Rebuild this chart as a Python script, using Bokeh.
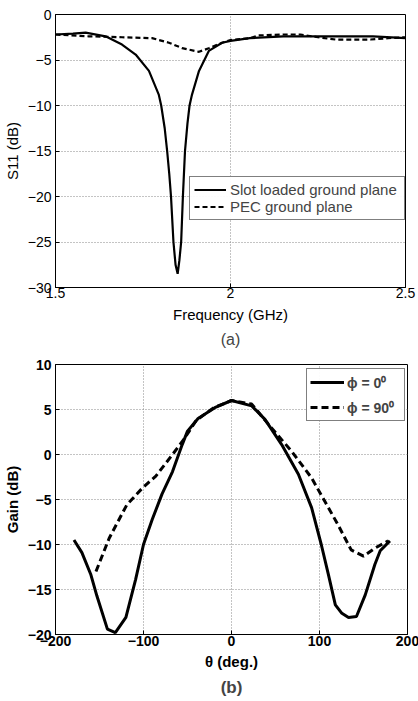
from bokeh.plotting import figure
from bokeh.layouts import column
from bokeh.models import Legend, LegendItem, Title, FixedTicker
from bokeh.embed import file_html
from bokeh.resources import INLINE

# ---- data (a) ----
freq_slot = [1.50, 1.55, 1.586, 1.643, 1.69, 1.729, 1.767, 1.795, 1.802, 1.812, 1.819, 1.825, 1.830, 1.837,
             1.843, 1.849, 1.854, 1.859, 1.864, 1.870, 1.877, 1.883, 1.890, 1.91, 1.938, 1.976, 2.00,
             2.055, 2.151, 2.292, 2.407, 2.50]
s11_slot = [-2.2, -2.1, -2.0, -2.4, -3.3, -4.4, -6.2, -8.8, -10.0, -12.5, -15.0, -17.5, -20.0, -25.0,
            -27.5, -28.5, -27.0, -25.0, -20.0, -15.0, -12.0, -10.0, -8.8, -6.2, -4.0, -3.1, -2.9,
            -2.6, -2.4, -2.4, -2.4, -2.6]
freq_pec = [1.50, 1.595, 1.69, 1.776, 1.824, 1.862, 1.91, 1.938, 1.976, 2.00, 2.055, 2.08, 2.15, 2.20,
            2.25, 2.30, 2.40, 2.45, 2.50]
s11_pec = [-2.2, -2.4, -2.5, -2.6, -3.1, -3.7, -4.1, -3.7, -3.1, -2.8, -2.6, -2.3, -2.2, -2.2,
           -2.5, -2.75, -2.75, -2.6, -2.5]
ticks_a_x = [1.5, 2, 2.5]
ticks_a_y = [-30, -25, -20, -15, -10, -5, 0]

# ---- data (b) ----
theta0 = [-179, -170, -160, -153, -141, -132, -120, -109, -100, -90, -79, -67, -56, -50, -38, -19, 0,
          23, 38, 57, 76, 91, 102, 110, 118, 125, 133, 142, 152, 163, 169, 180]
gain0 = [-9.5, -10.9, -13.3, -15.7, -19.4, -19.8, -18.1, -13.9, -10.0, -7.2, -4.4, -1.9, 1.1, 2.6, 4.0,
         5.2, 6.0, 5.4, 3.9, 1.1, -2.2, -5.9, -10.0, -13.3, -16.7, -17.6, -18.1, -18.0, -15.6, -12.2,
         -10.7, -9.6]
theta90 = [-154, -139, -119, -101, -86, -67, -54, -40, -20, 0, 23, 45, 68, 91, 106, 121, 136, 150, 163,
           178]
gain90 = [-13.0, -9.3, -5.6, -3.7, -2.4, 0.0, 1.7, 3.8, 5.2, 6.0, 5.6, 3.0, 0.4, -2.6, -5.2, -7.8,
          -10.6, -11.3, -10.4, -9.6]
ticks_b_x = [-200, -100, 0, 100, 200]
ticks_b_y = [-20, -15, -10, -5, 0, 5, 10]

FONT = "Liberation Sans"


def style(p, bold=False):
    p.outline_line_color = "black"
    p.outline_line_width = 1
    p.background_fill_color = "white"
    p.border_fill_color = "white"
    for ax in p.axis:
        ax.major_tick_in = 4
        ax.major_tick_out = 0
        ax.minor_tick_line_color = None
        ax.axis_line_color = "black"
        ax.major_label_text_font = FONT
        ax.major_label_text_font_size = "14px"
        ax.major_label_text_color = "black"
        ax.axis_label_text_font = FONT
        ax.axis_label_text_font_size = "15px"
        ax.axis_label_text_font_style = "bold" if bold else "normal"
        ax.major_label_text_font_style = "bold" if bold else "normal"
        ax.axis_label_text_color = "black"
    p.xaxis.major_label_standoff = 0
    p.xaxis.axis_label_standoff = 5
    p.yaxis.major_label_standoff = 4
    p.yaxis.axis_label_standoff = 4
    for g in p.grid:
        g.grid_line_color = "#888888"
        g.grid_line_dash = "1 2"
        g.grid_line_width = 1


# ---- figure (a) ----
p1 = figure(frame_width=350, frame_height=273, x_range=(1.5, 2.5), y_range=(-30, 0),
            output_backend="svg", toolbar_location=None,
            min_border_left=48, min_border_right=12, min_border_top=14, min_border_bottom=65)
p1.xaxis.ticker = FixedTicker(ticks=ticks_a_x)
p1.yaxis.ticker = FixedTicker(ticks=ticks_a_y)
p1.xaxis.axis_label = "Frequency (GHz)"
p1.yaxis.axis_label = "S11 (dB)"
r1 = p1.line(freq_slot, s11_slot, line_color="black", line_width=2.2)
r2 = p1.line(freq_pec, s11_pec, line_color="black", line_width=2.2, line_dash="5 3")
style(p1)
leg1 = Legend(items=[LegendItem(label="Slot loaded ground plane", renderers=[r1]),
                     LegendItem(label="PEC ground plane", renderers=[r2])],
              location=(134, 67), label_text_font=FONT, label_text_font_size="15px",
              glyph_width=32, glyph_height=17, label_height=17, label_width=170, spacing=0,
              padding=4, margin=0, border_line_color="black", border_line_width=1, label_standoff=4)
p1.add_layout(leg1)
t1 = Title(text="(a)", align="center", text_font=FONT, text_font_size="16px",
           text_font_style="normal", standoff=7)
p1.add_layout(t1, "below")

# ---- figure (b) ----
p2 = figure(frame_width=352, frame_height=270, x_range=(-200, 200), y_range=(-20, 10),
            output_backend="svg", toolbar_location=None,
            min_border_left=46, min_border_right=12, min_border_top=12, min_border_bottom=60)
p2.xaxis.ticker = FixedTicker(ticks=ticks_b_x)
p2.yaxis.ticker = FixedTicker(ticks=ticks_b_y)
p2.xaxis.axis_label = "θ (deg.)"
p2.yaxis.axis_label = "Gain (dB)"
r3 = p2.line(theta0, gain0, line_color="black", line_width=3)
r4 = p2.line(theta90, gain90, line_color="black", line_width=3, line_dash="7 4")
style(p2, bold=True)
p2.xaxis.major_label_standoff = 1
p2.xaxis.axis_label_standoff = 4
leg2 = Legend(items=[LegendItem(label="ϕ = 0⁰", renderers=[r3]),
                     LegendItem(label="ϕ = 90⁰", renderers=[r4])],
              location=(251, 213), label_text_font=FONT, label_text_font_size="14px",
              label_text_font_style="bold",
              glyph_width=34, glyph_height=20, label_height=20, label_width=54, spacing=5, padding=3,
              margin=0, border_line_color="black", border_line_width=1, label_standoff=3)
p2.add_layout(leg2)
t2 = Title(text="(b)", align="center", text_font=FONT, text_font_size="17px",
           text_font_style="bold", standoff=6)
p2.add_layout(t2, "below")

layout = column(p1, p2, spacing=0)
open("out.html", "w").write(file_html(layout, INLINE))
